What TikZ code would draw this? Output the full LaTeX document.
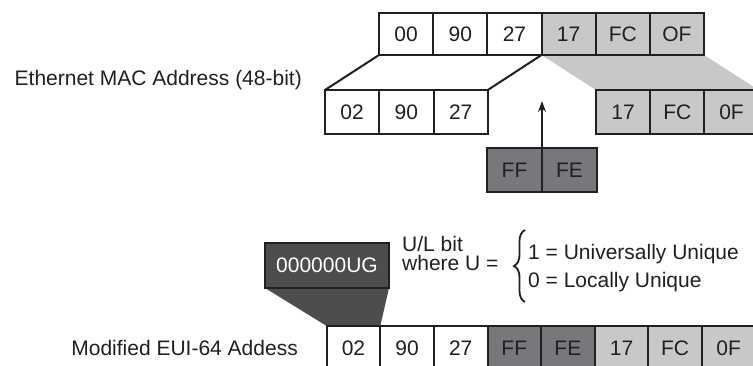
\documentclass[tikz,border=0pt]{standalone}
\usepackage{fontspec}
\setmainfont{Liberation Sans}
\usetikzlibrary{decorations.pathreplacing,arrows.meta,backgrounds}
\definecolor{ink}{HTML}{231F20}
\definecolor{lgray}{HTML}{C8C8C8}
\definecolor{mgray}{HTML}{77787B}
\definecolor{dgray}{HTML}{4D4D4F}
\begin{document}
\begin{tikzpicture}[x=1pt,y=-1pt,
  cell/.style={draw=ink, line width=2pt, minimum width=54.2pt, minimum height=44pt,
    inner sep=0pt, outer sep=0pt, font=\fontsize{21}{25}\selectfont, text=ink, anchor=north west},
  whitecell/.style={cell, fill=white},
  lightcell/.style={cell, fill=lgray},
  midcell/.style={cell, fill=mgray},
  lbl/.style={font=\fontsize{21}{25}\selectfont, text=ink, inner sep=0pt},
  link/.style={draw=ink, line width=2pt}]
\useasboundingbox (0,0) rectangle (753,365);

% top row (48-bit MAC)
\foreach \t [count=\i] in {00,90,27}
  \node[whitecell, minimum height=42pt] (t\i) at ({379+(\i-1)*54.17},13) {\t};
\foreach \t [count=\i from 4] in {17,FC,OF}
  \node[lightcell, minimum height=42pt] (t\i) at ({379+(\i-1)*54.17},13) {\t};

% middle row
\foreach \t [count=\i] in {02,90,27}
  \node[whitecell] (m\i) at ({325+(\i-1)*54.3},90) {\t};
\foreach \t [count=\i from 4] in {17,FC,0F}
  \node[lightcell] (m\i) at ({596+(\i-4)*54.2},90) {\t};

% inserted FF FE
\node[midcell, minimum width=55pt] (f1) at (487,148) {FF};
\node[midcell, minimum width=55pt] (f2) at (542,148) {FE};

% bottom row (modified EUI-64)
\foreach \t [count=\i] in {02,90,27}
  \node[whitecell, minimum width=53.6pt, minimum height=45pt] (b\i) at ({326.7+(\i-1)*53.6},326) {\t};
\foreach \t [count=\i from 4] in {FF,FE}
  \node[midcell, minimum width=53.6pt, minimum height=45pt] (b\i) at ({326.7+(\i-1)*53.6},326) {\t};
\foreach \t [count=\i from 6] in {17,FC,0F}
  \node[lightcell, minimum width=53.6pt, minimum height=45pt] (b\i) at ({326.7+(\i-1)*53.6},326) {\t};

% 000000UG box
\node[cell, fill=dgray, text=white, minimum width=124pt, minimum height=45pt] (ug) at (265,243) {000000UG};

\begin{scope}[on background layer]
  \fill[lgray] (t4.south west) -- (t6.south east) -- (m6.north east) -- (m4.north west) -- cycle;
  \fill[dgray] (ug.south west) -- (ug.south east) -- (b1.north east) -- (b1.north west) -- cycle;
\end{scope}

% connectors
\draw[link] (t1.south west) -- (m1.north west);
\draw[link] (t4.south west) -- (m3.north east);
\coordinate (atip) at (542,101);
\draw[draw=ink, line width=1.6pt, -{Stealth[length=11pt,width=8pt]}] (f1.north east) -- (atip);

% labels
\node[lbl, anchor=base east] (lmac) at (302,85) {Ethernet MAC Address (48-bit)};
\node[lbl, anchor=base east] (leui) at (298,355) {Modified EUI-64 Addess};
\node[lbl, anchor=base west, align=left, font=\fontsize{21}{19}\selectfont] (lul) at (402,270) {U/L bit\\where U =};
\coordinate (bbot) at (525,302);
\coordinate (btop) at (525,230);
\draw[draw=ink, line width=1.8pt, decorate, decoration={brace, amplitude=11pt}] (bbot) -- (btop);
\node[lbl, anchor=base west, align=left, font=\fontsize{21}{28}\selectfont] (lval) at (528,287) {1 = Universally Unique\\0 = Locally Unique};
\end{tikzpicture}
\end{document}
